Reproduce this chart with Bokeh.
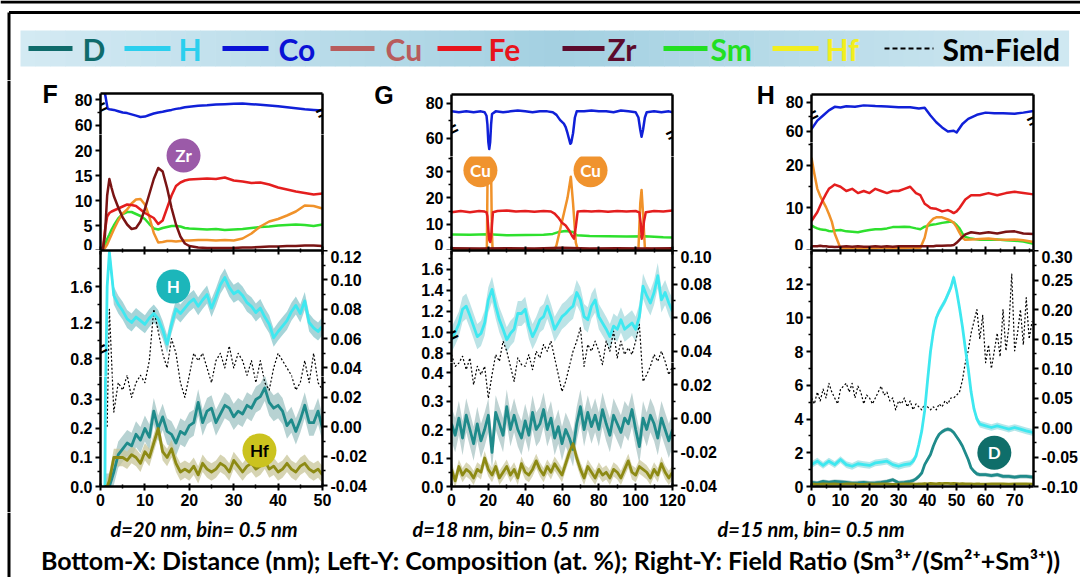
import numpy as np
from bokeh.plotting import figure
from bokeh.models import Range1d, LinearAxis, FixedTicker, PrintfTickFormatter
from bokeh.layouts import column, row
from bokeh.embed import file_html
from bokeh.resources import INLINE
from bokeh.core.properties import value

# ---------------- data ----------------
# Panel F
F_CO_X = [0.3, 1.0, 1.6, 2, 3, 4, 5, 6, 7, 8, 9, 10, 11, 12, 13, 14, 15, 16, 17, 18, 19, 20, 22, 24, 26, 28, 30, 32, 34, 36, 38, 40, 42, 44, 46, 48, 50]
F_CO = [86, 85, 73, 72.5, 72, 71, 70, 69.5, 68.5, 67.5, 66.5, 66.8, 68, 69.2, 70, 70.5, 71.3, 72, 72.8, 73.3, 74, 74.5, 75.2, 75.6, 76.2, 76.5, 76.8, 77, 76.5, 76, 75.5, 74.8, 74, 73.3, 72.5, 72, 71.6]
F_CX = [0.5, 1, 1.5, 2, 2.5, 3, 4, 5, 6, 7, 8, 9, 10, 11, 12, 13, 14, 15, 16, 17, 18, 19, 20, 22, 24, 26, 28, 30, 32, 34, 36, 38, 40, 42, 44, 46, 48, 50]
F_FE = [0, 4, 6.8, 7.5, 7.8, 8, 8.4, 8.8, 9.2, 9.1, 8.9, 8.2, 7.5, 7, 6.5, 5.3, 6, 8.5, 11, 12.9, 13.6, 14, 14.2, 14.3, 14.4, 14.3, 14.6, 14.0, 13.8, 13.5, 13.6, 13.2, 12.6, 12.2, 11.8, 11.5, 11.2, 11.4]
F_ZR = [0, 3, 11, 14.3, 12.5, 10.9, 8.6, 6.6, 5.2, 4.3, 4.5, 5.8, 8.3, 11.3, 14.3, 16.5, 15.8, 12.5, 8.5, 5.2, 2.8, 1.4, 0.9, 0.6, 0.5, 0.5, 0.5, 0.5, 0.6, 0.6, 0.7, 0.8, 0.8, 0.9, 0.9, 1.0, 1.0, 0.9]
F_CU = [0, 0.5, 1.2, 2.2, 3.2, 4.2, 6, 7.4, 8.2, 9.4, 10.2, 10.3, 9.2, 6.7, 3.5, 1.6, 1.7, 1.9, 1.9, 1.8, 1.9, 2, 2, 2.1, 2.1, 2, 2.1, 2, 2.4, 3.4, 4.8, 5.8, 6.3, 7, 7.8, 9, 8.9, 8.4]
F_SM = [0, 1, 2.3, 3.2, 4.2, 5, 6.4, 7.3, 7.7, 7.7, 7.3, 6.9, 6.3, 5.3, 4.4, 4.2, 4.5, 4.7, 4.9, 4.9, 4.8, 4.5, 4.4, 4.3, 4.2, 4.3, 4.1, 4.2, 4.3, 4.5, 4.7, 4.8, 5, 5.1, 5.2, 5.1, 4.9, 5.2]
F_BX = [1, 1.5, 2, 3, 4, 5, 6, 7, 8, 9, 10, 11, 12, 13, 14, 15, 16, 17, 18, 19, 20, 21, 22, 23, 24, 25, 26, 27, 28, 29, 30, 31, 32, 33, 34, 35, 36, 37, 38, 39, 40, 41, 42, 43, 44, 45, 46, 47, 48, 49, 50]
F_H = [0, 1.6, 1.98, 1.5, 1.4, 1.33, 1.24, 1.2, 1.26, 1.22, 1.18, 1.25, 1.3, 1.24, 1.12, 0.96, 1.18, 1.35, 1.3, 1.36, 1.42, 1.46, 1.38, 1.45, 1.51, 1.36, 1.48, 1.62, 1.7, 1.59, 1.52, 1.55, 1.5, 1.42, 1.38, 1.31, 1.36, 1.26, 1.18, 1.03, 1.1, 1.16, 1.22, 1.32, 1.39, 1.3, 1.44, 1.2, 1.14, 1.1, 1.16]
F_D = [0, 0, 0, 0.05, 0.11, 0.13, 0.15, 0.14, 0.18, 0.16, 0.2, 0.17, 0.26, 0.2, 0.24, 0.19, 0.18, 0.15, 0.19, 0.18, 0.21, 0.22, 0.29, 0.22, 0.26, 0.27, 0.22, 0.25, 0.28, 0.27, 0.24, 0.26, 0.25, 0.28, 0.27, 0.3, 0.31, 0.34, 0.29, 0.27, 0.28, 0.26, 0.21, 0.23, 0.19, 0.23, 0.28, 0.22, 0.22, 0.26, 0.2]
F_HF = [0, 0, 0.02, 0.1, 0.1, 0.1, 0.09, 0.11, 0.1, 0.08, 0.12, 0.1, 0.15, 0.2, 0.12, 0.1, 0.13, 0.08, 0.05, 0.06, 0.05, 0.07, 0.04, 0.08, 0.06, 0.05, 0.06, 0.08, 0.07, 0.05, 0.09, 0.07, 0.05, 0.07, 0.08, 0.06, 0.07, 0.09, 0.06, 0.07, 0.05, 0.06, 0.08, 0.06, 0.05, 0.07, 0.08, 0.06, 0.05, 0.06, 0.04]
F_FIELD_X = F_BX[1:]
F_FIELD = [0.0, 0.08, 0.01, 0.03, 0.025, 0.035, 0.02, 0.03, 0.035, 0.03, 0.045, 0.08, 0.065, 0.05, 0.04, 0.06, 0.05, 0.03, 0.02, 0.035, 0.05, 0.045, 0.05, 0.04, 0.03, 0.045, 0.05, 0.04, 0.055, 0.04, 0.05, 0.045, 0.035, 0.045, 0.03, 0.045, 0.03, 0.025, 0.04, 0.05, 0.045, 0.04, 0.035, 0.025, 0.03, 0.045, 0.03, 0.05, 0.03, 0.025]
F_ERR_H, F_ERR_D, F_ERR_HF = 0.1, 0.045, 0.03

# Panel G
G_CO_X = [0, 4, 8, 12, 16, 18, 19, 19.5, 20, 20.5, 21, 21.5, 22, 24, 28, 32, 36, 40, 44, 48, 52, 55, 57, 59, 61, 62, 63, 64, 64.5, 65, 66, 67, 68, 72, 76, 80, 84, 88, 92, 96, 100, 101.5, 102.5, 103.2, 104, 105, 106, 110, 114, 118, 120]
G_CO = [75.5, 75, 75.5, 75, 75.5, 75, 73, 68, 58, 54, 58, 68, 74, 75.5, 75, 75.5, 76, 75.5, 75, 75.5, 75.5, 75, 73.5, 70.5, 68.5, 66.5, 63, 59, 57, 57.5, 63, 72, 75.5, 75.5, 76, 75.5, 75.5, 75, 76, 75.5, 75, 72, 65, 61, 65, 72, 75, 75.5, 75, 75.5, 75]
G_FE_X = [0, 5, 10, 15, 18, 19, 19.5, 20, 20.5, 21, 21.5, 22, 22.5, 25, 30, 35, 40, 45, 50, 54, 56, 58, 60, 62, 64, 65.5, 66.5, 67.5, 68.5, 72, 76, 80, 85, 90, 95, 100, 102, 102.8, 103.3, 103.8, 104.5, 105.5, 110, 115, 120]
G_FE = [14.5, 15, 14.5, 15, 14.8, 14.5, 13, 8, 4, 3.2, 5, 10, 14.5, 15, 15.2, 14.8, 15, 14.7, 15, 14.8, 14, 12.5, 10.5, 9.5, 7.5, 5.5, 4.5, 9, 14.8, 15, 14.8, 15, 14.7, 15, 14.8, 15, 14.5, 10, 4.5, 6, 11, 14.5, 15, 14.8, 15.2]
G_CU_X = [0, 10, 18, 19.2, 19.6, 20.2, 21.5, 21.9, 22.3, 23, 30, 40, 50, 56, 57, 60, 63, 64.8, 66, 67.5, 68.5, 75, 85, 95, 101.5, 102.5, 103.2, 104, 105, 110, 120]
G_CU = [0.3, 0.4, 0.3, 1, 30, 32, 31, 8, 0.5, 0.3, 0.3, 0.4, 0.3, 0.4, 2, 11, 20, 28, 18, 3, 0.4, 0.3, 0.4, 0.3, 0.5, 18, 23, 14, 1, 0.3, 0.4]
G_SM_X = [0, 10, 20, 30, 40, 50, 55, 58, 62, 66, 68, 75, 85, 95, 105, 115, 120]
G_SM = [6.1, 6.0, 6.2, 5.8, 5.9, 6.0, 6.3, 7.0, 7.4, 7.0, 5.8, 5.5, 5.4, 5.3, 5.4, 5.0, 4.9]
G_ZR_X = [0, 15, 30, 45, 60, 75, 90, 105, 120]
G_ZR = [0.9, 0.8, 0.9, 0.8, 1.0, 0.8, 0.9, 0.8, 0.9]
G_BX = list(range(0, 121, 2))
G_H = [0.93, 1.0, 1.08, 1.22, 1.25, 1.16, 1.06, 0.96, 0.99, 1.09, 1.31, 1.41, 1.25, 1.12, 1.03, 0.93, 0.99, 1.03, 1.18, 1.18, 1.22, 1.06, 0.96, 1.03, 1.12, 1.15, 1.25, 1.15, 1.03, 1.09, 1.15, 1.18, 1.22, 1.25, 1.38, 1.31, 1.15, 1.12, 1.25, 1.31, 1.15, 1.09, 1.03, 0.96, 1.06, 1.03, 1.12, 1.03, 1.06, 1.09, 1.03, 1.15, 1.44, 1.35, 1.28, 1.38, 1.54, 1.31, 1.38, 1.28, 1.2]
G_D = [0.22, 0.18, 0.24, 0.17, 0.25, 0.2, 0.15, 0.22, 0.16, 0.2, 0.25, 0.12, 0.26, 0.22, 0.18, 0.28, 0.2, 0.25, 0.2, 0.17, 0.23, 0.18, 0.26, 0.2, 0.22, 0.27, 0.2, 0.24, 0.17, 0.21, 0.15, 0.2, 0.17, 0.13, 0.22, 0.28, 0.2, 0.26, 0.21, 0.25, 0.2, 0.27, 0.22, 0.18, 0.25, 0.22, 0.19, 0.24, 0.22, 0.27, 0.2, 0.14, 0.24, 0.2, 0.25, 0.22, 0.17, 0.24, 0.2, 0.16, 0.2]
G_HF = [0.06, 0.02, 0.07, 0.04, 0.06, 0.05, 0.03, 0.06, 0.05, 0.1, 0.06, 0.04, 0.07, 0.03, 0.05, 0.07, 0.04, 0.06, 0.03, 0.08, 0.05, 0.04, 0.06, 0.09, 0.06, 0.04, 0.07, 0.05, 0.08, 0.06, 0.04, 0.08, 0.12, 0.15, 0.1, 0.06, 0.03, 0.07, 0.05, 0.03, 0.06, 0.04, 0.05, 0.03, 0.06, 0.05, 0.03, 0.06, 0.09, 0.05, 0.04, 0.07, 0.06, 0.05, 0.03, 0.06, 0.04, 0.08, 0.05, 0.03, 0.05]
G_FIELD = [0.038, 0.031, 0.033, 0.037, 0.029, 0.036, 0.02, 0.031, 0.026, 0.031, 0.012, 0.026, 0.038, 0.034, 0.046, 0.04, 0.031, 0.022, 0.036, 0.032, 0.031, 0.038, 0.029, 0.04, 0.036, 0.044, 0.04, 0.046, 0.036, 0.026, 0.016, 0.022, 0.031, 0.04, 0.046, 0.054, 0.031, 0.044, 0.04, 0.046, 0.04, 0.032, 0.046, 0.04, 0.052, 0.036, 0.046, 0.038, 0.042, 0.038, 0.046, 0.056, 0.022, 0.026, 0.031, 0.038, 0.034, 0.04, 0.034, 0.026, 0.031]
G_ERR_H, G_ERR_D, G_ERR_HF = 0.12, 0.06, 0.025

# Panel H
H_CO_X = [0, 2, 4, 6, 8, 10, 12, 15, 18, 22, 26, 30, 34, 37, 39, 41, 43, 45, 47, 49, 50, 52, 54, 57, 60, 63, 66, 70, 73, 76.5]
H_CO = [61.6, 67.5, 71, 74.6, 77, 76.5, 77.4, 77, 78, 77.5, 77.2, 76.7, 76.7, 75.8, 76.3, 71, 66.4, 62.8, 60, 60.5, 59.3, 65.2, 68.7, 71.5, 73, 72.5, 72.5, 72.3, 73, 74.1]
H_CX = [0, 1, 2, 3, 4, 5, 6, 7, 8, 10, 12, 14, 16, 18, 20, 22, 24, 26, 28, 30, 32, 34, 36, 37.5, 39, 40, 41, 42, 43, 45, 47, 48, 49, 50, 51, 52, 53, 55, 58, 61, 64, 67, 70, 73, 76.5]
H_FE = [6.9, 8, 9, 10.5, 12, 13.3, 14.5, 15, 15.5, 15, 14, 14.5, 13.5, 14, 13.5, 14.5, 14, 13.5, 14, 14, 14.5, 15, 13.5, 13, 11, 10.5, 10, 9.9, 9.8, 9.2, 9.5, 9.2, 8.8, 9.2, 10, 11, 12, 13, 13, 13.5, 13, 13.5, 13.8, 13.5, 13.2]
H_CU = [21.8, 18, 14.5, 12.8, 11.5, 10.2, 8.6, 6.8, 4, 0.5, 0.6, 0.5, 0.6, 0.5, 0.6, 0.5, 0.7, 0.6, 0.5, 0.6, 0.6, 0.7, 0.6, 0.6, 3, 6, 6.8, 7.5, 7.8, 7.8, 7.3, 7, 6.5, 5.5, 4.2, 3, 2.5, 2.6, 2.7, 2.8, 2.6, 2.5, 2.6, 2.4, 2]
H_SM = [5.9, 5.5, 5.2, 5, 4.9, 4.8, 4.6, 4.5, 4.7, 4.8, 4.5, 4.4, 4.3, 4.6, 4.8, 5, 5, 5.2, 5.5, 5.5, 5.6, 5.5, 5.2, 5, 5.6, 5.8, 6, 6.1, 6.2, 6.5, 6.7, 6.8, 6.6, 6, 5.2, 4, 3.2, 2.8, 2.5, 2.5, 2.6, 2.4, 2.3, 2.1, 1.6]
H_ZR = [1, 1, 1, 1.1, 1, 1, 0.9, 0.9, 0.8, 0.9, 1, 0.9, 1, 0.9, 0.9, 1, 0.9, 1, 0.9, 1, 1, 1, 1, 1, 1, 1, 1, 1, 1.1, 1.1, 1.2, 1.2, 1.3, 1.8, 2.5, 3.2, 3.8, 4.3, 4, 4.3, 4, 4.4, 4.5, 4, 3.9]
H_BX = [0, 2, 4, 6, 8, 10, 12, 14, 16, 18, 20, 22, 24, 26, 28, 30, 32, 34, 35, 36, 37, 38, 39, 40, 41, 42, 43, 44, 45, 46, 47, 48, 49, 50, 51, 52, 53, 54, 55, 56, 57, 58, 60, 62, 64, 66, 68, 70, 72, 74, 76.5]
H_H = [1.3, 1.5, 1.25, 1.5, 1.3, 1.6, 1.3, 1.2, 1.35, 1.3, 1.25, 1.4, 1.45, 1.5, 1.3, 1.2, 1.3, 1.35, 1.5, 1.8, 2.5, 3.3, 4.5, 6.3, 8, 9.2, 10, 10.4, 10.7, 11, 11.4, 11.8, 12.4, 11.6, 10.6, 9.5, 8.2, 7, 5.6, 4.6, 4, 3.7, 3.6, 3.5, 3.6, 3.5, 3.4, 3.5, 3.4, 3.3, 3.2]
H_D = [0.25, 0.2, 0.3, 0.25, 0.3, 0.28, 0.25, 0.2, 0.22, 0.25, 0.2, 0.22, 0.25, 0.3, 0.4, 0.22, 0.25, 0.3, 0.35, 0.45, 0.6, 0.8, 1.3, 1.6, 1.9, 2.4, 2.8, 3.1, 3.25, 3.35, 3.4, 3.35, 3.2, 2.95, 2.7, 2.4, 2.0, 1.6, 1.1, 0.9, 0.75, 0.7, 0.7, 0.65, 0.7, 0.6, 0.6, 0.55, 0.6, 0.6, 0.55]
H_HF = [0.15, 0.13, 0.16, 0.14, 0.15, 0.13, 0.15, 0.16, 0.14, 0.13, 0.15, 0.14, 0.16, 0.15, 0.13, 0.14, 0.15, 0.16, 0.15, 0.14, 0.16, 0.15, 0.17, 0.16, 0.18, 0.17, 0.16, 0.18, 0.17, 0.19, 0.18, 0.17, 0.18, 0.17, 0.16, 0.17, 0.15, 0.16, 0.15, 0.14, 0.16, 0.15, 0.14, 0.15, 0.16, 0.15, 0.14, 0.15, 0.16, 0.15, 0.14]
H_FIELD_X = list(range(0, 77))
H_FIELD = [0.05, 0.04, 0.06, 0.045, 0.065, 0.05, 0.075, 0.06, 0.05, 0.04, 0.065, 0.07, 0.075, 0.06, 0.075, 0.05, 0.07, 0.06, 0.04, 0.055, 0.05, 0.04, 0.05, 0.06, 0.07, 0.055, 0.06, 0.045, 0.05, 0.03, 0.045, 0.04, 0.05, 0.035, 0.045, 0.03, 0.04, 0.035, 0.03, 0.04, 0.035, 0.03, 0.035, 0.03, 0.04, 0.035, 0.045, 0.04, 0.05, 0.05, 0.055, 0.06, 0.08, 0.11, 0.13, 0.16, 0.18, 0.2, 0.15, 0.19, 0.11, 0.14, 0.1, 0.13, 0.16, 0.12, 0.2, 0.13, 0.17, 0.26, 0.13, 0.16, 0.2, 0.14, 0.22, 0.15, 0.18]
H_ERR_H, H_ERR_D, H_ERR_HF = 0.2, 0.12, 0.05

LEG_LABELS = ["D", "H", "Co", "Cu", "Fe", "Zr", "Sm", "Hf"]
LEG_COLORS = ["#0f6b6b", "#2bcfee", "#0a12d6", "#b85c5c", "#e8141c", "#5c0b2c", "#22df22", "#f2ee1e"]
SUBTITLES = ["d=20 nm, bin= 0.5 nm", "d=18 nm, bin= 0.5 nm", "d=15 nm, bin= 0.5 nm"]
CAPTION = "Bottom-X: Distance (nm); Left-Y: Composition (at. %); Right-Y: Field Ratio (Sm\u00b3\u207a/(Sm\u00b2\u207a+Sm\u00b3\u207a))"

# ---------------- styles ----------------
C_CO, C_FE, C_CU, C_ZR, C_SM = "#1020d8", "#e41e1e", "#f0922a", "#7a1414", "#2ee02e"
C_H, C_D, C_HF = "#3ee8f0", "#1f8b8b", "#8d8a14"
TF = "Liberation Sans"
LW = 2.5
HAS_ALIGN = "axis_label_align" in LinearAxis.properties()


def mkfig(w, h, xr, yr, bl=0, br=0, bt=0, bb=0):
    p = figure(width=w, height=h, x_range=xr, y_range=yr, output_backend="svg",
               toolbar_location=None, x_axis_location=None, y_axis_location=None,
               title=None, min_border=0, min_border_left=bl, min_border_right=br,
               min_border_top=bt, min_border_bottom=bb)
    p.grid.visible = False
    p.outline_line_color = None
    p.background_fill_color = "white"
    p.border_fill_color = "white"
    return p


def ax(p, side, ticks=(), minor=(), fmt=None, rname=None, tin=0, tout=5, mtin=0, mtout=3,
       labels=True):
    kw = {}
    if rname is not None:
        kw["y_range_name" if side in ("left", "right") else "x_range_name"] = rname
    a = LinearAxis(ticker=FixedTicker(ticks=list(ticks), minor_ticks=list(minor)), **kw)
    a.axis_line_width = LW
    a.axis_line_color = "black"
    a.major_tick_line_width = 2
    a.major_tick_line_color = "black"
    a.minor_tick_line_width = 1.5
    a.minor_tick_line_color = "black"
    a.major_tick_in = tin
    a.major_tick_out = tout
    a.minor_tick_in = mtin
    a.minor_tick_out = mtout
    a.major_label_text_font = TF
    a.major_label_text_font_style = "bold"
    show = labels and len(ticks) > 0
    if show:
        a.major_label_text_font_size = "16px"
        a.major_label_text_color = "black"
        a.major_label_standoff = 3
    else:
        a.major_label_text_font_size = "0px"
        a.major_label_text_color = None
        a.major_label_standoff = 0
    if fmt:
        a.formatter = PrintfTickFormatter(format=fmt)
    p.add_layout(a, side)
    return a


def letter(a, txt, stand, lh):
    a.axis_label_orientation = "horizontal"
    a.axis_label_text_font = TF
    a.axis_label_text_font_style = "bold"
    a.axis_label_text_font_size = "25px"
    a.axis_label_text_color = "black"
    a.axis_label_standoff = stand
    if HAS_ALIGN:
        a.axis_label = txt
        a.axis_label_align = "end"
    else:
        a.axis_label = txt + "\n "
        a.axis_label_text_line_height = lh


def mark(p, side, loc, yv, text, size, standoff, angle):
    """Axis-break mark drawn by an extra, line-less axis fixed at the frame edge."""
    a = LinearAxis(ticker=FixedTicker(ticks=[yv], minor_ticks=[]), fixed_location=loc)
    a.axis_line_color = None
    a.major_tick_line_color = None
    a.minor_tick_line_color = None
    a.major_tick_in = 0
    a.major_tick_out = 0
    a.minor_tick_in = 0
    a.minor_tick_out = 0
    a.major_label_overrides = {yv: text}
    a.major_label_standoff = standoff
    a.major_label_text_font = TF
    a.major_label_text_font_style = "bold"
    a.major_label_text_font_size = size
    a.major_label_text_color = "black"
    a.major_label_orientation = angle
    p.add_layout(a, side)
    return a


def brk(p, x0, x1, yv, both=True):
    mark(p, "left", x0, yv, "=", "20px", -6, 0.45)
    if both:
        mark(p, "right", x1, yv, "=", "20px", -6, 0.45)


def xy(xs, ys):
    n = min(len(xs), len(ys))
    return np.asarray(xs[:n], float), np.asarray(ys[:n], float)


def series(p, xs, ys, color, width=LW, rname="default", dash="solid"):
    x, y = xy(xs, ys)
    p.line(x, y, line_color=color, line_width=width, y_range_name=rname,
           line_dash=dash, line_join="round")


def band(p, xs, ys, err, color, alpha=0.75):
    x, y = xy(xs, ys)
    p.varea(x=x, y1=y - err, y2=y + err, fill_color=color, fill_alpha=alpha)


def badge(p, x, y, txt, fill, tcolor="white"):
    p.scatter([x], [y], size=34, marker="circle", fill_color=fill, line_color=None)
    p.text([x], [y], text=[txt], text_align="center", text_baseline="middle",
           text_color=tcolor, text_font=value("Lato"), text_font_style="bold",
           text_font_size="17px")


def xticks_line(p, side, maj, mnr):
    ax(p, side, maj, mnr, tin=4, tout=0, mtin=2, mtout=0, labels=False)


def composition(p, cu_x, cu, fe_x, fe, sm_x, sm, zr_x, zr):
    series(p, sm_x, sm, C_SM)
    series(p, cu_x, cu, C_CU)
    series(p, fe_x, fe, C_FE)
    series(p, zr_x, zr, C_ZR)


def lower(p, xs, h, d, hf, eh, ed, ehf, fx, fld, hb_col, db_col, hfb_col):
    band(p, xs, h, eh, hb_col)
    band(p, xs, d, ed, db_col)
    band(p, xs, hf, ehf, hfb_col)
    series(p, fx, fld, "black", width=1.2, rname="fr", dash="2 2")
    series(p, xs, h, C_H, width=2.8)
    series(p, xs, d, C_D, width=2.8)
    series(p, xs, hf, C_HF, width=2.8)


# ---------------- panel F ----------------
FW, FBL, FBR = 357, 88, 47
FX = Range1d(0, 50)
F_MAJ, F_MIN = [0, 10, 20, 30, 40, 50], [5, 15, 25, 35, 45]

fco = mkfig(FW, 54, FX, Range1d(52.8, 84.8), FBL, FBR, bt=13)
letter(ax(fco, "left", [60, 80], [70], "%d"), "F", 14, 1.16)
ax(fco, "right")
ax(fco, "above", tout=0)
brk(fco, 0, 50, 52.8)
series(fco, F_CO_X, F_CO, C_CO)

fcm = mkfig(FW, 116, FX, Range1d(0, 23.2), FBL, FBR)
ax(fcm, "left", [0, 5, 10, 15, 20], [], "%d")
ax(fcm, "right")
xticks_line(fcm, "below", F_MAJ, F_MIN)
composition(fcm, F_CX, F_CU, F_CX, F_FE, F_CX, F_SM, F_CX, F_ZR)
badge(fcm, 18.7, 19.0, "Zr", "#9b5aa8")

fbu = mkfig(FW, 126, FX, Range1d(0.6, 2.0), FBL, FBR)
fbu.extra_y_ranges = {"fr": Range1d(0.03421, 0.12)}
ax(fbu, "left", [0.8, 1.2, 1.6], [1.0, 1.4, 1.8], "%.1f")
ax(fbu, "right", [0.04, 0.06, 0.08, 0.10, 0.12], [0.05, 0.07, 0.09, 0.11], "%.2f", rname="fr")
xticks_line(fbu, "above", F_MAJ, F_MIN)
brk(fbu, 0, 50, 0.6, both=False)
lower(fbu, F_BX, F_H, F_D, F_HF, F_ERR_H, F_ERR_D, F_ERR_HF, F_FIELD_X, F_FIELD,
      "#88c6cb", "#9fc3c3", "#c8c59a")
badge(fbu, 16.4, 1.6, "H", "#1cb6ba")

fbl = mkfig(FW, 136, FX, Range1d(0, 0.3793), FBL, FBR, bb=26)
fbl.extra_y_ranges = {"fr": Range1d(-0.04068, 0.03421)}
ax(fbl, "left", [0, 0.1, 0.2, 0.3], [0.05, 0.15, 0.25, 0.35], "%.1f")
ax(fbl, "right", [-0.04, -0.02, 0, 0.02], [-0.03, -0.01, 0.01, 0.03], "%.2f", rname="fr")
ax(fbl, "below", F_MAJ, F_MIN, "%d", tin=3, tout=4, mtin=2, mtout=2)
lower(fbl, F_BX, F_H, F_D, F_HF, F_ERR_H, F_ERR_D, F_ERR_HF, F_FIELD_X, F_FIELD,
      "#88c6cb", "#9fc3c3", "#c8c59a")
badge(fbl, 35.8, 0.124, "Hf", "#cbc31e", tcolor="black")

# ---------------- panel G ----------------
GW, GBL, GBR = 351, 82, 48
GX = Range1d(0, 120)
G_MAJ, G_MIN = [0, 20, 40, 60, 80, 100, 120], [10, 30, 50, 70, 90, 110]

gco = mkfig(GW, 76, GX, Range1d(49.7, 85.14), GBL, GBR, bt=14)
letter(ax(gco, "left", [60, 80], [70], "%d"), "G", 29, 1.92)
ax(gco, "right")
ax(gco, "above", tout=0)
brk(gco, 0, 120, 49.7)
series(gco, G_CO_X, G_CO, C_CO)

gcm = mkfig(GW, 94, GX, Range1d(0, 35.7), GBL, GBR)
ax(gcm, "left", [0, 10, 20, 30], [5, 15, 25, 35], "%d")
ax(gcm, "right")
xticks_line(gcm, "below", G_MAJ, G_MIN)
composition(gcm, G_CU_X, G_CU, G_FE_X, G_FE, G_SM_X, G_SM, G_ZR_X, G_ZR)
badge(gcm, 15.7, 30.5, "Cu", "#f0932e")
badge(gcm, 75.5, 30.5, "Cu", "#f0932e")

gbu = mkfig(GW, 112, GX, Range1d(0.7133, 1.78), GBL, GBR)
gbu.extra_y_ranges = {"fr": Range1d(0.03328, 0.10)}
ax(gbu, "left", [0.8, 1.0, 1.2, 1.4, 1.6], [0.9, 1.1, 1.3, 1.5, 1.7], "%.1f")
ax(gbu, "right", [0.04, 0.06, 0.08, 0.10], [0.05, 0.07, 0.09], "%.2f", rname="fr")
xticks_line(gbu, "above", G_MAJ, G_MIN)
brk(gbu, 0, 120, 0.7133, both=False)
lower(gbu, G_BX, G_H, G_D, G_HF, G_ERR_H, G_ERR_D, G_ERR_HF, G_BX, G_FIELD,
      "#a6dadd", "#a9c4c4", "#cbc89e")

gbl = mkfig(GW, 150, GX, Range1d(0, 0.4351), GBL, GBR, bb=26)
gbl.extra_y_ranges = {"fr": Range1d(-0.04059, 0.03328)}
ax(gbl, "left", [0, 0.1, 0.2, 0.3, 0.4], [0.05, 0.15, 0.25, 0.35], "%.1f")
ax(gbl, "right", [-0.04, -0.02, 0, 0.02], [-0.03, -0.01, 0.01, 0.03], "%.2f", rname="fr")
ax(gbl, "below", G_MAJ, G_MIN, "%d", tin=3, tout=4, mtin=2, mtout=2)
lower(gbl, G_BX, G_H, G_D, G_HF, G_ERR_H, G_ERR_D, G_ERR_HF, G_BX, G_FIELD,
      "#a6dadd", "#a9c4c4", "#cbc89e")

# ---------------- panel H ----------------
HW, HBL, HBR = 360, 91, 47
HX = Range1d(0, 76.5)
H_MAJ, H_MIN = [0, 10, 20, 30, 40, 50, 60, 70], [5, 15, 25, 35, 45, 55, 65, 75]

hco = mkfig(HW, 62, HX, Range1d(52.4, 85.5), HBL, HBR, bt=14)
letter(ax(hco, "left", [60, 80], [70], "%d"), "H", 8, 1.6)
ax(hco, "right")
ax(hco, "above", tout=0)
brk(hco, 0, 76.5, 52.4)
series(hco, H_CO_X, H_CO, C_CO)

hcm = mkfig(HW, 108, HX, Range1d(0, 25.4), HBL, HBR)
ax(hcm, "left", [0, 10, 20], [5, 15, 25], "%d")
ax(hcm, "right")
xticks_line(hcm, "below", H_MAJ, H_MIN)
composition(hcm, H_CX, H_CU, H_CX, H_FE, H_CX, H_SM, H_CX, H_ZR)

hb = mkfig(HW, 262, HX, Range1d(0, 14.0), HBL, HBR, bb=26)
hb.extra_y_ranges = {"fr": Range1d(-0.10, 0.30)}
ax(hb, "left", [0, 2, 4, 6, 8, 10, 12], [1, 3, 5, 7, 9, 11, 13], "%d")
ax(hb, "right", [-0.10, -0.05, 0.0, 0.05, 0.10, 0.15, 0.20, 0.25, 0.30],
   [-0.075, -0.025, 0.025, 0.075, 0.125, 0.175, 0.225, 0.275], "%.2f", rname="fr")
xticks_line(hb, "above", H_MAJ, H_MIN)
ax(hb, "below", H_MAJ, H_MIN, "%d", tin=3, tout=4, mtin=2, mtout=2)
lower(hb, H_BX, H_H, H_D, H_HF, H_ERR_H, H_ERR_D, H_ERR_HF, H_FIELD_X, H_FIELD,
      "#9adfe3", "#8fb8b5", "#c8c08a")
badge(hb, 63, 2.0, "D", "#0f6e6a")

# ---------------- decorations ----------------
strip = mkfig(12, 432, Range1d(0, 12), Range1d(0, 1))
strip.segment(x0=[8.5], y0=[0], x1=[8.5], y1=[1], line_color="black", line_width=3)

hd = mkfig(1080, 80, Range1d(0, 1080), Range1d(80, 0))
hd.segment(x0=[0], y0=[1.5], x1=[1080], y1=[1.5], line_color="black", line_width=3)
hd.segment(x0=[8.5, 8.5], y0=[12, 12], x1=[1080, 8.5], y1=[12, 80], line_color="black", line_width=3)
edges = np.linspace(20, 1068, 71)
stops_x = [20, 560, 1068]
stops_c = [(0xd4, 0xea, 0xf3), (0xa3, 0xd0, 0xe1), (0xd0, 0xe8, 0xf1)]
mids = (edges[:-1] + edges[1:]) / 2
cols = []
for m in mids:
    rgb = [int(round(np.interp(m, stops_x, [c[k] for c in stops_c]))) for k in range(3)]
    cols.append("#%02x%02x%02x" % tuple(rgb))
hd.quad(left=edges[:-1], right=edges[1:] + 0.6, top=30, bottom=66, fill_color=cols, line_color=None)
lx0 = [28, 124, 222, 330, 437, 562, 663, 772]
lx1 = [72, 170, 268, 374, 481, 604, 707, 818]
ltx = [82, 178, 278, 385, 488, 607, 710, 825]
hd.segment(x0=lx0, y0=[48] * 8, x1=lx1, y1=[48] * 8, line_color=LEG_COLORS, line_width=5)
hd.text(ltx, [48] * 8, text=LEG_LABELS, text_color=LEG_COLORS, text_font=value("Lato"),
        text_font_style="bold", text_font_size="30px", text_baseline="middle", text_align="left")
hd.segment(x0=[884], y0=[48], x1=[933], y1=[48], line_color="black", line_width=2, line_dash="5 3")
hd.text([942], [48], text=["Sm-Field"], text_color="black", text_font=value("Lato"),
        text_font_style="bold", text_font_size="30px", text_baseline="middle", text_align="left")

ft = mkfig(1080, 65, Range1d(0, 1080), Range1d(577, 512))
ft.segment(x0=[8.5], y0=[512], x1=[8.5], y1=[577], line_color="black", line_width=3)
ft.text([110, 412, 717], [528, 528, 528], text=SUBTITLES, text_color="black", text_font=value("Lato"),
        text_font_style="bold italic", text_font_size="20px", text_baseline="middle", text_align="left")
ft.text([550], [559], text=[CAPTION], text_color="black", text_font=value("Lato"),
        text_font_style="bold", text_font_size="25px", text_baseline="middle", text_align="center")

colF = column(fco, fcm, fbu, fbl)
colG = column(gco, gcm, gbu, gbl)
colH = column(hco, hcm, hb)
root = column(hd, row(strip, colF, colG, colH), ft)

open("out.html", "w").write(file_html(root, INLINE))
